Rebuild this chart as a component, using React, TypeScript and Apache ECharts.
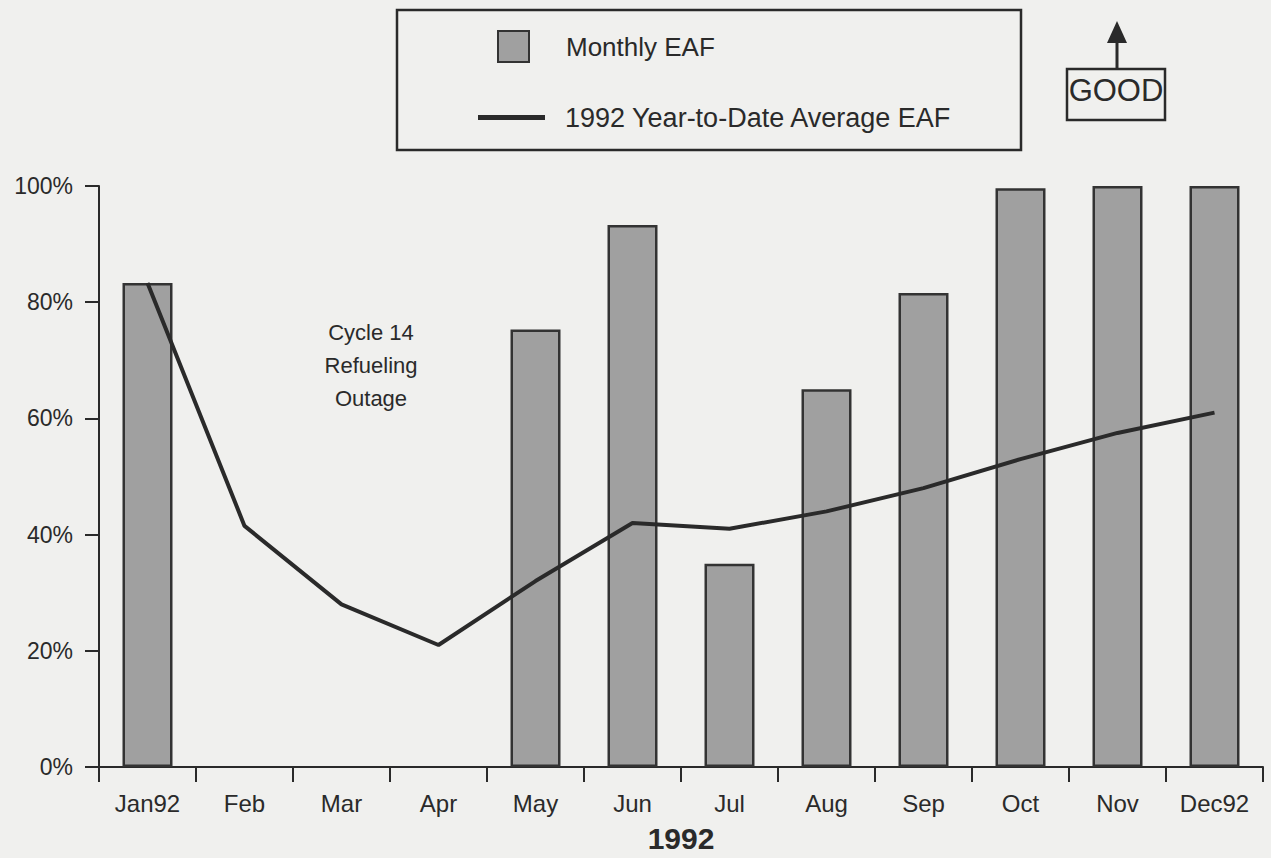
import React, { useEffect, useRef } from "react";
import * as echarts from "echarts";

const months = ["Jan92", "Feb", "Mar", "Apr", "May", "Jun", "Jul", "Aug", "Sep", "Oct", "Nov", "Dec92"];
const monthlyEAF: (number | null)[] = [83.3, null, null, null, 75.3, 93.3, 35, 65, 81.6, 99.6, 100, 100];
const ytdAverageEAF = [83.3, 41.5, 28, 21, 32, 42, 41, 44, 48, 53, 57.5, 61];
const yTicks = { min: 0, max: 100, interval: 20 };
const barName = "Monthly EAF";
const lineName = "1992 Year-to-Date Average EAF";
const xTitle = "1992";
const annotation = "Cycle 14\nRefueling\nOutage";
const goodLabel = "GOOD";

const FONT = "'Liberation Sans', Arial, Helvetica, sans-serif";
const INK = "#2a2a2a";

export default function App() {
  const ref = useRef<HTMLDivElement>(null);
  useEffect(() => {
    if (!ref.current) return;
    const chart = echarts.init(ref.current, undefined, { renderer: "svg" });
    chart.setOption({
      animation: false,
      backgroundColor: "#f0f0ee",
      textStyle: { fontFamily: FONT, color: INK },
      grid: { left: 99, right: 8, top: 186, bottom: 91, containLabel: false },
      legend: [
        {
          data: [{ name: barName, icon: "rect" }],
          left: 492,
          top: 25,
          itemWidth: 31,
          itemHeight: 31,
          textStyle: { fontSize: 26, color: INK, fontFamily: FONT, padding: [0, 0, 0, 32] },
        },
        {
          data: [{ name: lineName, icon: "rect" }],
          left: 473,
          top: 99,
          itemWidth: 67,
          itemHeight: 5,
          itemStyle: { color: INK, borderWidth: 0 },
          textStyle: { fontSize: 27, color: INK, fontFamily: FONT, padding: [0, 0, 0, 15] },
        },
      ],
      xAxis: {
        type: "category",
        data: months,
        boundaryGap: true,
        name: xTitle,
        nameLocation: "middle",
        nameGap: 56,
        nameTextStyle: { fontSize: 30, fontWeight: "bold", color: INK, fontFamily: FONT },
        axisLine: { lineStyle: { color: INK, width: 2 } },
        axisTick: { show: true, length: 15, lineStyle: { color: INK, width: 2 } },
        axisLabel: { fontSize: 24, color: INK, margin: 24, fontFamily: FONT },
      },
      yAxis: {
        type: "value",
        min: yTicks.min,
        max: yTicks.max,
        interval: yTicks.interval,
        splitLine: { show: false },
        axisLine: { show: true, lineStyle: { color: INK, width: 2 } },
        axisTick: { show: true, length: 14, lineStyle: { color: INK, width: 2 } },
        axisLabel: { fontSize: 23, color: INK, margin: 26, formatter: "{value}%", fontFamily: FONT },
      },
      series: [
        {
          name: barName,
          type: "bar",
          data: monthlyEAF,
          barWidth: 50,
          itemStyle: { color: "#a0a0a0", borderColor: "#333333", borderWidth: 2.5 },
        },
        {
          name: lineName,
          type: "line",
          data: ytdAverageEAF,
          symbol: "none",
          lineStyle: { color: INK, width: 4 },
          itemStyle: { color: INK },
          z: 5,
        },
      ],
      graphic: [
        {
          type: "rect",
          shape: { x: 397, y: 10, width: 624, height: 140 },
          style: { fill: "transparent", stroke: INK, lineWidth: 2.5 },
        },
        {
          type: "text",
          x: 371,
          y: 365,
          style: {
            text: annotation,
            fontSize: 22,
            lineHeight: 33,
            fontFamily: FONT,
            fill: INK,
            align: "center",
            verticalAlign: "middle",
          },
        },
        {
          type: "rect",
          shape: { x: 1067, y: 69, width: 98, height: 51 },
          style: { fill: "transparent", stroke: INK, lineWidth: 2.5 },
        },
        {
          type: "text",
          x: 1116,
          y: 90,
          style: {
            text: goodLabel,
            fontSize: 31,
            fontFamily: FONT,
            fill: INK,
            align: "center",
            verticalAlign: "middle",
          },
        },
        {
          type: "line",
          shape: { x1: 1117, y1: 69, x2: 1117, y2: 40 },
          style: { stroke: INK, lineWidth: 3 },
        },
        {
          type: "polygon",
          shape: { points: [[1107, 43], [1127, 43], [1117, 21]] },
          style: { fill: INK },
        },
      ],
    });
    return () => chart.dispose();
  }, []);
  return (
    <div
      ref={ref}
      style={{ position: "fixed", left: 0, top: 0, width: 1271, height: 858 }}
    />
  );
}
